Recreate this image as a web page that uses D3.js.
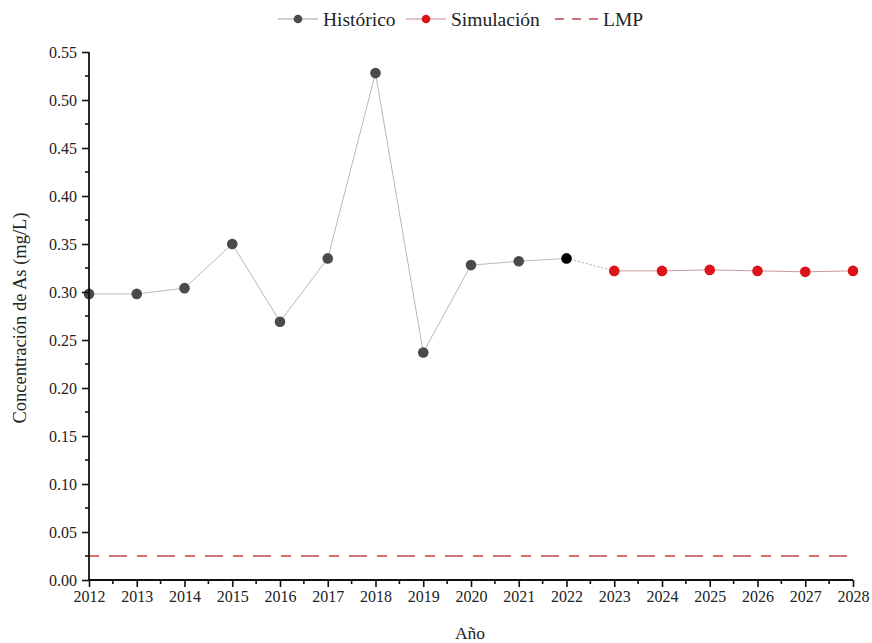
<!DOCTYPE html>
<html>
<head>
<meta charset="utf-8">
<script src="https://cdn.jsdelivr.net/npm/d3@7"></script>
<style>
  body { margin: 0; background: #fff; }
  svg, svg text { font-family: "Liberation Serif", "DejaVu Serif", "Times New Roman", serif !important; }
</style>
</head>
<body>
<svg id="chart" width="872" height="643"></svg>
<script>
// Arsenic concentration: historical record and simulated projection
const histYears = [2012, 2013, 2014, 2015, 2016, 2017, 2018, 2019, 2020, 2021, 2022];
const histValues = [0.298, 0.298, 0.304, 0.350, 0.269, 0.335, 0.528, 0.237, 0.328, 0.332, 0.335];
const simYears = [2023, 2024, 2025, 2026, 2027, 2028];
const simValues = [0.322, 0.322, 0.323, 0.322, 0.321, 0.322];
const lmpValue = 0.025;
const xTicks = d3.range(2012, 2029);
const yTicks = d3.range(0, 0.5501, 0.05);

const SERIF = '"Liberation Serif", "DejaVu Serif", "Times New Roman", serif';
const svg = d3.select("#chart");
const margin = { left: 89, right: 19, top: 52, bottom: 63 };
const W = 872, H = 643;

const x = d3.scaleLinear().domain([2012, 2028]).range([margin.left, W - margin.right]);
const y = d3.scaleLinear().domain([0, 0.55]).range([H - margin.bottom, margin.top]);

// LMP reference line
svg.append("line")
  .attr("x1", x(2012)).attr("x2", x(2028))
  .attr("y1", y(lmpValue)).attr("y2", y(lmpValue))
  .attr("stroke", "#cf7474").attr("stroke-width", 2.2)
  .attr("stroke-dasharray", "10 10 18 10");

const line = d3.line().x(d => x(d[0])).y(d => y(d[1]));
const histPts = histYears.map((yr, i) => [yr, histValues[i]]);
const simPts = simYears.map((yr, i) => [yr, simValues[i]]);

// Historical line
svg.append("path").datum(histPts).attr("d", line)
  .attr("fill", "none").attr("stroke", "#b0b0b0").attr("stroke-width", 0.9);

// Link between last observed value and first simulated value
svg.append("path").datum([histPts[histPts.length - 1], simPts[0]]).attr("d", line)
  .attr("fill", "none").attr("stroke", "#c9a0a0").attr("stroke-width", 1)
  .attr("stroke-dasharray", "2 2");

// Simulation line
svg.append("path").datum(simPts).attr("d", line)
  .attr("fill", "none").attr("stroke", "#cf9a9a").attr("stroke-width", 1);

// Markers
svg.selectAll("circle.hist").data(histPts).enter().append("circle")
  .attr("class", "hist")
  .attr("cx", d => x(d[0])).attr("cy", d => y(d[1])).attr("r", 5.3)
  .attr("fill", (d, i) => i === histPts.length - 1 ? "#000" : "#4a4a4a");

svg.selectAll("circle.sim").data(simPts).enter().append("circle")
  .attr("class", "sim")
  .attr("cx", d => x(d[0])).attr("cy", d => y(d[1])).attr("r", 5.3)
  .attr("fill", "#dc1418");

// Axes
const yAxis = d3.axisLeft(y).tickValues(yTicks).tickFormat(d3.format(".2f")).tickSize(7).tickPadding(5);
const xAxis = d3.axisBottom(x).tickValues(xTicks).tickFormat(d3.format("d")).tickSize(7).tickPadding(4);

const gy = svg.append("g").attr("transform", `translate(${margin.left},0)`).call(yAxis);
const gx = svg.append("g").attr("transform", `translate(0,${H - margin.bottom})`).call(xAxis);

[gx, gy].forEach(g => {
  g.attr("font-family", null);
  g.select(".domain").attr("stroke", "#111").attr("stroke-width", 1.8);
  g.selectAll(".tick line").attr("stroke", "#111").attr("stroke-width", 1.6);
  g.selectAll("text").style("font-family", SERIF).style("font-size", "16px").attr("fill", "#222");
});
gy.select(".domain").attr("d", `M0,${y(0)}V${y(0.55)}`);
gx.select(".domain").attr("d", `M${x(2012)},0H${x(2028)}`);

// Minor ticks
const yMinor = d3.range(0.025, 0.55, 0.05);
gy.selectAll("line.minor").data(yMinor).enter().append("line")
  .attr("class", "minor")
  .attr("x1", 0).attr("x2", -4).attr("y1", d => y(d)).attr("y2", d => y(d))
  .attr("stroke", "#111").attr("stroke-width", 1.6);
const xMinor = d3.range(2012.5, 2028, 1);
gx.selectAll("line.minor").data(xMinor).enter().append("line")
  .attr("class", "minor")
  .attr("y1", 0).attr("y2", 4).attr("x1", d => x(d)).attr("x2", d => x(d))
  .attr("stroke", "#111").attr("stroke-width", 1.6);

// Axis titles
svg.append("text")
  .attr("transform", `translate(26,318) rotate(-90)`)
  .attr("text-anchor", "middle").style("font-family", SERIF).style("font-size", "18.5px").attr("fill", "#222")
  .text("Concentración de As (mg/L)");
svg.append("text")
  .attr("x", 470).attr("y", 639)
  .attr("text-anchor", "middle").style("font-family", SERIF).style("font-size", "17.5px").attr("fill", "#222")
  .text("Año");

// Legend
const legend = svg.append("g").attr("transform", "translate(0,19)");
const items = [
  { label: "Histórico", x0: 278, color: "#4a4a4a", line: "#a0a0a0", type: "marker" },
  { label: "Simulación", x0: 406, color: "#dc1418", line: "#c98c8c", type: "marker" },
  { label: "LMP", x0: 555, color: "#c96a6a", line: "#cf7474", type: "dash" }
];
items.forEach(it => {
  const g = legend.append("g");
  if (it.type === "marker") {
    g.append("line").attr("x1", it.x0).attr("x2", it.x0 + 40).attr("y1", 0).attr("y2", 0)
      .attr("stroke", it.line).attr("stroke-width", 1);
    g.append("circle").attr("cx", it.x0 + 20).attr("cy", 0).attr("r", 4.3).attr("fill", it.color);
  } else {
    g.append("line").attr("x1", it.x0).attr("x2", it.x0 + 46).attr("y1", 0).attr("y2", 0)
      .attr("stroke", it.line).attr("stroke-width", 2)
      .attr("stroke-dasharray", "9 8");
  }
  g.append("text").attr("x", it.type === "marker" ? it.x0 + 45 : it.x0 + 48).attr("y", 6.5)
    .style("font-family", SERIF).style("font-size", "19.5px").attr("fill", "#222").text(it.label);
});
</script>
</body>
</html>
